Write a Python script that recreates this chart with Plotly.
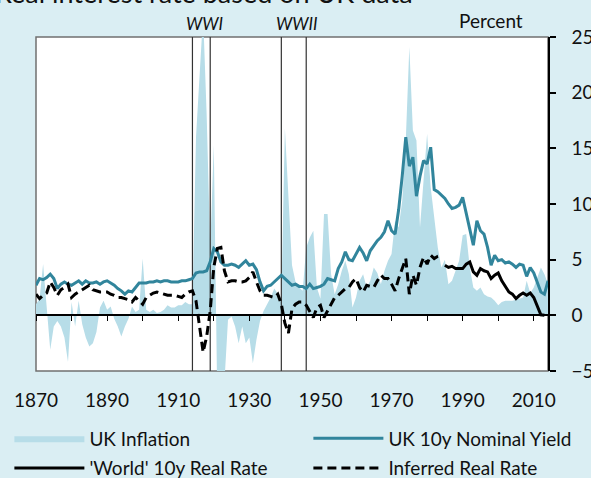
import plotly.graph_objects as go

# ---------------- data ----------------
years = list(range(1870, 2015))

uk_inflation = [
    1.0, 1.5, 4.6, 1.0, -3.1, -1.0, -0.5, -1.0, -2.0, -4.2,      # 1870s
    1.2, -1.0, 1.3, -0.8, -2.0, -2.8, -2.5, -1.5, 0.7, 1.3,      # 1880s
    0.5, 0.8, -0.3, -1.0, -1.9, -1.0, -0.3, 0.8, 0.3, 0.5,       # 1890s
    5.1, 0.5, 0.3, 0.5, 0.2, 0.3, 0.5, 0.9, 0.7, 0.7,            # 1900s
    0.9, 0.9, 1.2, 1.0, 1.0, 16.0, 22.6, 27.0, 18.0, 6.0,        # 1910s
    15.3, -8.0, -15.0, -6.0, -0.4, -0.1, -1.0, -2.5, -1.0, -2.5, # 1920s
    -2.0, -4.3, -2.2, -0.5, 0.4, 1.0, 1.6, 2.4, 2.0, 1.5,        # 1930s
    16.8, 10.0, 4.5, 3.0, 2.5, 2.2, 6.1, 7.0, 7.6, 2.5,          # 1940s
    1.5, 9.1, 9.1, 3.7, 1.9, 2.8, 4.0, 4.9, 3.7, 0.7,            # 1950s
    1.6, 3.1, 3.7, 2.5, 3.1, 4.3, 3.8, 2.8, 4.0, 4.9,            # 1960s
    5.5, 8.5, 7.9, 10.3, 15.7, 24.1, 16.6, 15.7, 7.9, 12.1,      # 1970s
    16.3, 11.5, 8.5, 6.1, 4.3, 5.0, 2.8, 3.1, 4.0, 4.9,          # 1980s
    7.2, 7.3, 4.3, 2.5, 2.2, 2.5, 1.9, 1.7, 1.6, 1.3,            # 1990s
    0.9, 1.2, 1.3, 1.3, 1.3, 1.4, 1.5, 1.6, 3.1, 2.0,            # 2000s
    2.5, 3.4, 4.3, 3.7, 2.8,                                     # 2010s
]

uk_nominal_yield = [
    2.7, 3.3, 3.2, 3.4, 3.7, 3.3, 2.4, 2.8, 3.0, 2.8,
    2.7, 2.9, 3.1, 2.8, 3.1, 2.9, 2.9, 3.0, 2.8, 3.0,
    3.1, 2.9, 2.7, 2.4, 2.2, 1.9, 2.2, 2.1, 2.5, 2.9,
    2.9, 2.9, 3.0, 3.0, 3.1, 3.0, 3.1, 3.1, 3.0, 3.0,
    3.0, 3.1, 3.1, 3.2, 3.3, 3.8, 3.9, 3.9, 4.0, 4.8,
    6.0, 5.7, 4.8, 4.5, 4.5, 4.6, 4.5, 4.3, 4.6, 4.9,
    4.5, 4.6, 4.1, 3.0, 2.2, 2.6, 2.7, 3.0, 3.3, 3.6,
    3.3, 3.0, 2.7, 2.8, 2.6, 2.6, 2.4, 2.8, 2.4, 2.5,
    2.6, 2.8, 3.3, 3.2, 3.1, 4.2, 4.8, 5.7, 5.0, 4.9,
    5.5, 6.1, 5.6, 4.9, 5.8, 6.3, 6.7, 7.0, 7.5, 8.5,
    7.6, 7.3, 9.5, 12.5, 16.0, 13.4, 14.2, 10.7, 12.5, 13.9,
    13.6, 15.1, 11.3, 11.1, 10.8, 10.5, 10.0, 9.6, 9.7, 9.9,
    10.6, 9.2, 7.8, 6.3, 8.5, 7.6, 7.3, 6.1, 4.5, 5.4,
    4.9, 5.0, 4.7, 4.8, 4.6, 4.3, 4.6, 4.5, 3.5, 4.3,
    3.8, 3.0, 2.1, 1.9, 3.1,
]

inferred_years = list(range(1870, 1985))
inferred_real_rate = [
    1.9, 1.5, 1.8, 2.0, 3.0, 2.5, 1.8, 2.3, 2.5, 2.8,
    1.6, 1.9, 2.1, 2.3, 2.5, 2.7, 2.3, 2.2, 2.1, 2.1,
    2.1, 1.9, 1.8, 1.6, 1.6, 1.5, 1.4, 1.2, 1.6, 1.3,
    1.0, 1.6, 1.8, 2.0, 2.1, 2.0, 1.9, 1.8, 1.8, 1.8,
    1.7, 1.6, 1.9, 2.1, 2.2, 1.3, -1.0, -3.3, -1.9, 0.4,
    4.3, 6.0, 6.1, 4.0, 3.0, 3.1, 3.1, 3.0, 3.0, 3.1,
    3.4, 3.9, 3.0, 2.2, 1.8, 1.8, 1.7, 1.6, 1.9, 1.0,
    -0.7, -1.6, 0.6, 1.0, 1.2, 1.2, 0.9, 0.3, -0.2, 0.7,
    0.9, -0.2, 0.4, 0.9, 1.6, 1.8, 2.1, 2.4, 2.5, 3.0,
    3.3, 2.5, 2.1, 2.7, 2.6, 2.5, 3.1, 3.6, 3.3, 3.3,
    2.8, 2.2, 3.3, 4.3, 5.1, 1.9, 3.6, 2.7, 4.3, 5.2,
    4.6, 5.4, 5.1, 5.3, 5.4,
]

world_years = list(range(1985, 2014))
world_real_rate = [
    4.5, 4.3, 4.4, 4.2, 4.2,
    4.2, 4.6, 4.8, 3.9, 3.6, 4.2, 4.0, 3.9, 3.3, 3.6,
    3.8, 3.1, 2.6, 2.1, 1.9, 1.5, 1.8, 2.0, 1.8, 2.0,
    1.6, 0.8, 0.05, 0.0,
]

war_names = ["WWI", "WWII"]
war_start = [1914, 1939]
war_end = [1919, 1946]

x_tick_values = list(range(1870, 2011, 10))
x_tick_labels = [str(v) if (v - 1870) % 20 == 0 else "" for v in x_tick_values]
y_tick_values = [-5, 0, 5, 10, 15, 20, 25]
Y_MIN, Y_MAX = -5, 25
X_MIN, X_MAX = 1870, 2014

# ---------------- style ----------------
BG = "#DAEEF3"
INFL = "#B7DDE8"
TEAL = "#31859C"
FONT = "Lato"
TXT = "#111111"

fig = go.Figure()

fig.add_trace(go.Scatter(
    x=years, y=uk_inflation, mode="lines", fill="tozeroy",
    fillcolor=INFL, line=dict(width=0, color=INFL), name="UK Inflation",
    legend="legend", legendgroup="a",
))

# war period lines
wx, wy = [], []
for s, e in zip(war_start, war_end):
    for v in (s, e):
        wx += [v, v, None]
        wy += [Y_MIN, Y_MAX, None]
fig.add_trace(go.Scatter(
    x=wx, y=wy, mode="lines", line=dict(color="#333333", width=1.2),
    showlegend=False, hoverinfo="skip",
))

fig.add_trace(go.Scatter(
    x=years, y=uk_nominal_yield, mode="lines",
    line=dict(color=TEAL, width=3), name="UK 10y Nominal Yield",
    legend="legend2", legendgroup="c",
))
fig.add_trace(go.Scatter(
    x=world_years, y=world_real_rate, mode="lines",
    line=dict(color="black", width=3), name="'World' 10y Real Rate",
    legend="legend", legendgroup="b",
))
fig.add_trace(go.Scatter(
    x=inferred_years, y=inferred_real_rate, mode="lines",
    line=dict(color="black", width=3, dash="9px,5px"), name="Inferred Real Rate",
    legend="legend2", legendgroup="d",
))

annotations = [
    dict(text="Real interest rate based on UK data", xref="paper", yref="paper",
         x=-0.084, y=1.078, xanchor="left", yanchor="bottom", showarrow=False,
         font=dict(family=FONT, size=27, color=TXT)),
    dict(text="Percent", xref="paper", yref="paper", x=0.955, y=1.048,
         xanchor="right", yanchor="middle", showarrow=False,
         font=dict(family=FONT, size=19, color=TXT)),
]
for n, s, e in zip(war_names, war_start, war_end):
    annotations.append(dict(
        text="<i>" + n + "</i>", xref="x", yref="paper", x=(s + e) / 2, y=1.039,
        xanchor="center", yanchor="middle", showarrow=False, xshift=3,
        font=dict(family=FONT, size=17, color=TXT)))

legend_common = dict(orientation="v", yanchor="top", y=-0.145, xanchor="left",
                     itemwidth=70, tracegroupgap=2, traceorder="grouped",
                     font=dict(family=FONT, size=19, color=TXT),
                     bgcolor="rgba(0,0,0,0)")

fig.update_layout(
    width=591, height=478,
    paper_bgcolor=BG, plot_bgcolor="white",
    margin=dict(l=36, r=43, t=37, b=107, autoexpand=False),
    font=dict(family=FONT, size=19, color=TXT),
    showlegend=True,
    legend=dict(x=-0.052, **legend_common),
    legend2=dict(x=0.532, **legend_common),
    xaxis=dict(range=[X_MIN, X_MAX], anchor="free",
               position=(0 - Y_MIN) / (Y_MAX - Y_MIN),
               tickvals=x_tick_values, ticktext=x_tick_labels,
               ticks="outside", ticklen=5, tickwidth=1.2, tickcolor="black",
               showline=True, linecolor="black", linewidth=1.5,
               showgrid=False, zeroline=False, ticklabelstandoff=63,
               tickfont=dict(family=FONT, size=19, color=TXT)),
    yaxis=dict(range=[Y_MIN, Y_MAX], side="right", tickvals=y_tick_values,
               ticks="outside", ticklen=6, tickwidth=1.5, tickcolor="black",
               showline=True, linecolor="black", linewidth=1.5,
               showgrid=False, zeroline=False, ticklabelstandoff=12,
               tickfont=dict(family=FONT, size=19, color=TXT)),
    shapes=[dict(type="rect", xref="paper", yref="paper", x0=0, x1=1, y0=0, y1=1,
                 line=dict(color="#707070", width=1.5), layer="below")],
    annotations=annotations,
)

fig.write_html("out.html", config={"displayModeBar": False},
               post_script="document.body.style.margin='0';document.body.style.overflow='hidden';")
